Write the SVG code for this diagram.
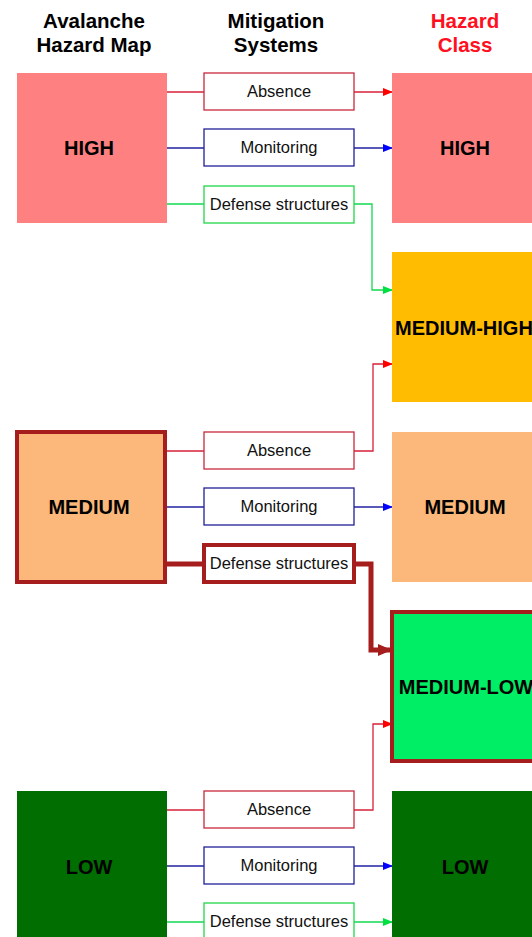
<svg xmlns="http://www.w3.org/2000/svg" width="532" height="937" viewBox="0 0 532 937">
<defs>
<marker id="aR" markerUnits="userSpaceOnUse" markerWidth="10" markerHeight="8" refX="9" refY="4" orient="auto"><path d="M0,0 L10,4 L0,8 Z" fill="#ff0000"/></marker>
<marker id="aB" markerUnits="userSpaceOnUse" markerWidth="10" markerHeight="8" refX="9" refY="4" orient="auto"><path d="M0,0 L10,4 L0,8 Z" fill="#0000ff"/></marker>
<marker id="aG" markerUnits="userSpaceOnUse" markerWidth="10" markerHeight="8" refX="9" refY="4" orient="auto"><path d="M0,0 L10,4 L0,8 Z" fill="#00e040"/></marker>
<marker id="aD" markerUnits="userSpaceOnUse" markerWidth="14" markerHeight="12" refX="12" refY="6" orient="auto"><path d="M0,0 L14,6 L0,12 Z" fill="#a51d1d"/></marker>
</defs>
<style>
.hdr{font-family:"Liberation Sans",Arial,sans-serif;font-weight:bold;font-size:20.5px;text-anchor:middle}
.lbl{font-family:"Liberation Sans",Arial,sans-serif;font-weight:bold;font-size:20px;text-anchor:middle}
.mt{font-family:"Liberation Sans",Arial,sans-serif;font-size:16.5px;text-anchor:middle;fill:#111}
.box{fill:#fff;stroke-width:1.3}
.ab{stroke:#c8283c}
.mo{stroke:#202098}
.de{stroke:#20d848}
.thick{stroke:#a51d1d;stroke-width:4}
.cr{fill:none;stroke:#d8203a;stroke-width:1.3}
.cb{fill:none;stroke:#2020a0;stroke-width:1.3}
.cg{fill:none;stroke:#10d850;stroke-width:1.3}
.cd{fill:none;stroke:#a51d1d;stroke-width:5}
</style>
<rect width="532" height="937" fill="#ffffff"/>
<g id="headers">
<text class="hdr" x="94" y="28">Avalanche</text>
<text class="hdr" x="94" y="52">Hazard Map</text>
<text class="hdr" x="276" y="28">Mitigation</text>
<text class="hdr" x="276" y="52">Systems</text>
<text class="hdr" x="465" y="28" fill="#ff1020">Hazard</text>
<text class="hdr" x="465" y="52" fill="#ff1020">Class</text>
</g>
<g id="connectors">
<path class="cr" d="M167,92 H204"/>
<path class="cr" d="M354,92 H392" marker-end="url(#aR)"/>
<path class="cb" d="M167,148 H204"/>
<path class="cb" d="M354,148 H392" marker-end="url(#aB)"/>
<path class="cg" d="M167,204 H204"/>
<path class="cg" d="M354,204 H372 V290 H392" marker-end="url(#aG)"/>
<path class="cr" d="M167,451 H204"/>
<path class="cr" d="M354,451 H373 V364 H392" marker-end="url(#aR)"/>
<path class="cb" d="M167,507 H204"/>
<path class="cb" d="M354,507 H392" marker-end="url(#aB)"/>
<path class="cd" d="M167,564 H204"/>
<path class="cd" d="M356,564 H371 V650 H390" marker-end="url(#aD)"/>
<path class="cr" d="M167,810 H204"/>
<path class="cr" d="M354,810 H373 V724 H392" marker-end="url(#aR)"/>
<path class="cb" d="M167,866 H204"/>
<path class="cb" d="M354,866 H392" marker-end="url(#aB)"/>
<path class="cg" d="M167,922 H204"/>
<path class="cg" d="M354,922 H392" marker-end="url(#aG)"/>
</g>
<g id="map-high"><rect x="17" y="73" width="150" height="150" fill="#ff8080"/><text class="lbl" x="89" y="155">HIGH</text></g>
<g id="map-medium"><rect x="17" y="432" width="148" height="150" fill="#fbb87a" class="thick"/><text class="lbl" x="89" y="514">MEDIUM</text></g>
<g id="map-low"><rect x="17" y="791" width="150" height="150" fill="#006e00"/><text class="lbl" x="89" y="874">LOW</text></g>
<g id="high-absence"><rect class="box ab" x="204" y="73" width="150" height="37"/><text class="mt" x="279" y="97">Absence</text></g>
<g id="high-monitoring"><rect class="box mo" x="204" y="129" width="150" height="37"/><text class="mt" x="279" y="153">Monitoring</text></g>
<g id="high-defense"><rect class="box de" x="204" y="186" width="150" height="37"/><text class="mt" x="279" y="210">Defense structures</text></g>
<g id="medium-absence"><rect class="box ab" x="204" y="432" width="150" height="37"/><text class="mt" x="279" y="456">Absence</text></g>
<g id="medium-monitoring"><rect class="box mo" x="204" y="488" width="150" height="37"/><text class="mt" x="279" y="512">Monitoring</text></g>
<g id="medium-defense"><rect class="box thick" x="204" y="545" width="150" height="37"/><text class="mt" x="279" y="569">Defense structures</text></g>
<g id="low-absence"><rect class="box ab" x="204" y="791" width="150" height="37"/><text class="mt" x="279" y="815">Absence</text></g>
<g id="low-monitoring"><rect class="box mo" x="204" y="847" width="150" height="37"/><text class="mt" x="279" y="871">Monitoring</text></g>
<g id="low-defense"><rect class="box de" x="204" y="903" width="150" height="37"/><text class="mt" x="279" y="927">Defense structures</text></g>
<g id="class-high"><rect x="392" y="73" width="150" height="150" fill="#ff8080"/><text class="lbl" x="465" y="155">HIGH</text></g>
<g id="class-medium-high"><rect x="392" y="252" width="150" height="150" fill="#ffbc00"/><text class="lbl" x="464" y="335">MEDIUM-HIGH</text></g>
<g id="class-medium"><rect x="392" y="432" width="150" height="150" fill="#fbb87a"/><text class="lbl" x="465" y="514">MEDIUM</text></g>
<g id="class-medium-low"><rect x="392" y="612" width="150" height="149" fill="#00ee66" class="thick"/><text class="lbl" x="466" y="694">MEDIUM-LOW</text></g>
<g id="class-low"><rect x="392" y="791" width="150" height="150" fill="#006e00"/><text class="lbl" x="465" y="874">LOW</text></g>
</svg>
